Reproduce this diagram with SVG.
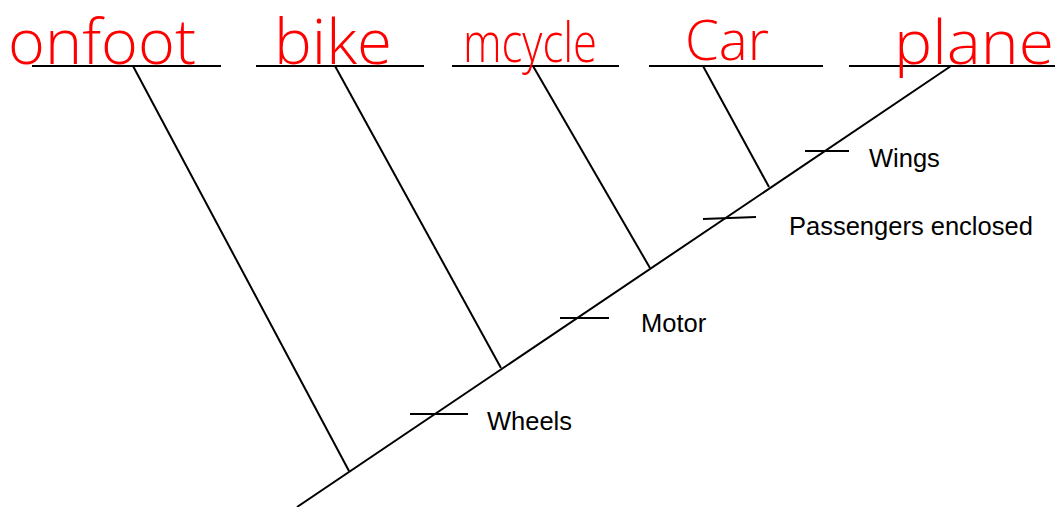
<svg xmlns="http://www.w3.org/2000/svg" width="1055" height="507" viewBox="0 0 1055 507">
<style>
.ln{stroke:#000;stroke-width:2;fill:none;stroke-linecap:butt}
.hw{fill:#f00;font-family:"Open Sans","Liberation Sans",sans-serif;font-weight:300}
.tr{fill:#000;font-family:"Liberation Sans","Open Sans",sans-serif;font-size:25.5px}
</style>
<rect width="1055" height="507" fill="#fff"/>
<g id="connectors">
<line class="ln" x1="297" y1="507" x2="951" y2="66"/>
<line class="ln" x1="133" y1="66" x2="349" y2="471"/>
<line class="ln" x1="335" y1="66" x2="501" y2="368"/>
<line class="ln" x1="533" y1="66" x2="650" y2="268"/>
<line class="ln" x1="703" y1="66" x2="769" y2="187"/>
</g>
<g id="taxon-onfoot">
<line class="ln" x1="32" y1="66" x2="221" y2="66"/>
<text class="hw" x="8" y="64" font-size="62" textLength="188" lengthAdjust="spacingAndGlyphs">onfoot</text>
</g>
<g id="taxon-bike">
<line class="ln" x1="256" y1="66" x2="424" y2="66"/>
<text class="hw" x="274" y="64" font-size="62" textLength="118" lengthAdjust="spacingAndGlyphs">bike</text>
</g>
<g id="taxon-mcycle">
<line class="ln" x1="452" y1="66" x2="619" y2="66"/>
<text class="hw" x="463" y="62" font-size="56" textLength="134" lengthAdjust="spacingAndGlyphs">mcycle</text>
</g>
<g id="taxon-car">
<line class="ln" x1="649" y1="66" x2="823" y2="66"/>
<text class="hw" x="685" y="60" font-size="56" textLength="84" lengthAdjust="spacingAndGlyphs">Car</text>
</g>
<g id="taxon-plane">
<line class="ln" x1="849" y1="66" x2="1055" y2="66"/>
<text class="hw" x="894" y="64" font-size="60" textLength="160" lengthAdjust="spacingAndGlyphs">plane</text>
</g>
<g id="trait-wheels">
<line class="ln" x1="410" y1="414" x2="468" y2="414"/>
<text class="tr" x="487" y="430">Wheels</text>
</g>
<g id="trait-motor">
<line class="ln" x1="560" y1="318" x2="609" y2="318"/>
<text class="tr" x="641" y="332">Motor</text>
</g>
<g id="trait-passengers">
<line class="ln" x1="703" y1="219" x2="756" y2="217"/>
<text class="tr" x="789" y="235">Passengers enclosed</text>
</g>
<g id="trait-wings">
<line class="ln" x1="805" y1="151" x2="849" y2="151"/>
<text class="tr" x="869" y="167">Wings</text>
</g>
</svg>
